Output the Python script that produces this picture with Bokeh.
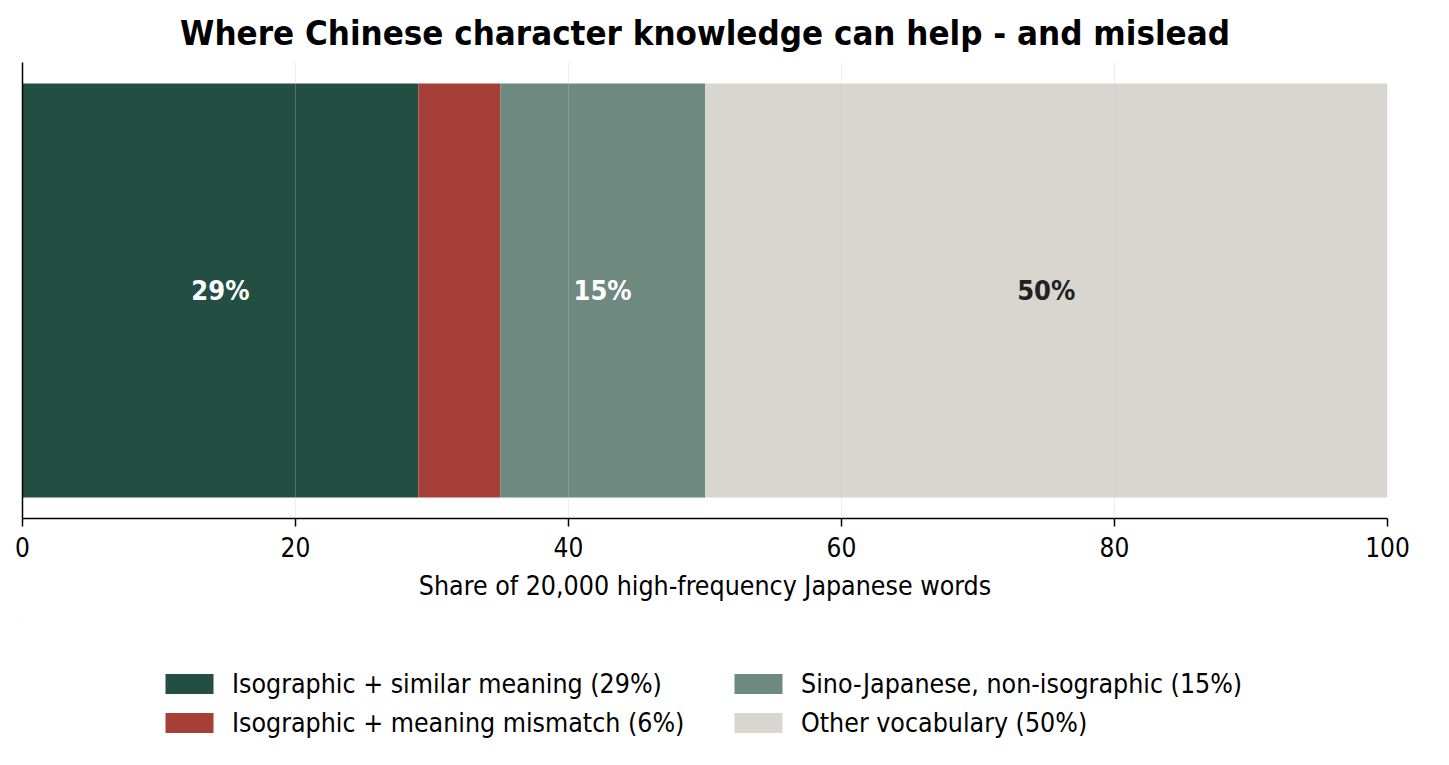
from bokeh.plotting import figure
from bokeh.models import Range1d, Legend, LegendItem, ColumnDataSource, FixedTicker
from bokeh.layouts import column
from bokeh.core.properties import value
from bokeh.embed import file_html
from bokeh.resources import INLINE

categories = ["Isographic + similar meaning (29%)",
              "Isographic + meaning mismatch (6%)",
              "Sino-Japanese, non-isographic (15%)",
              "Other vocabulary (50%)"]
shares = [29, 6, 15, 50]
colors = ["#234F42", "#A63F37", "#6E8980", "#D8D6CE"]
bar_labels = ["29%", "", "15%", "50%"]
label_colors = ["#FFFFFF", "#FFFFFF", "#FFFFFF", "#222222"]
x_ticks = [0, 20, 40, 60, 80, 100]

FONT = "DejaVu Sans Condensed"

lefts = []
rights = []
acc = 0
for s in shares:
    lefts.append(acc)
    acc += s
    rights.append(acc)
mids = [(l + r) / 2 for l, r in zip(lefts, rights)]

p = figure(frame_width=1365, frame_height=456, output_backend="svg", toolbar_location=None,
           x_range=Range1d(0, 100), y_range=Range1d(-0.4406, 0.4406),
           min_border_left=22, min_border_right=54, min_border_top=6, min_border_bottom=100)
p.outline_line_color = None
p.background_fill_color = "white"

p.title.text = "Where Chinese character knowledge can help - and mislead"
p.title.align = "center"
p.title.text_font = FONT
p.title.text_font_size = "34.6px"
p.title.text_font_style = "bold"
p.title.text_color = "#000000"
p.title.standoff = 20

for i in range(len(shares)):
    p.hbar(y=[0], left=[lefts[i]], right=[rights[i]], height=0.8,
           fill_color=colors[i], line_color=None)

src = ColumnDataSource(dict(x=mids, y=[0] * len(mids), t=bar_labels, c=label_colors))
p.text(x="x", y="y", text="t", text_color="c", source=src,
       text_align="center", text_baseline="middle",
       text_font=value(FONT), text_font_style="bold", text_font_size="27px")

p.xgrid.ticker = FixedTicker(ticks=x_ticks)
p.xgrid.grid_line_color = "#c8c8c8"
p.xgrid.grid_line_alpha = 0.3
p.xgrid.level = "guide"
p.ygrid.grid_line_color = None

p.xaxis.ticker = FixedTicker(ticks=x_ticks)
p.xaxis.axis_line_color = "black"
p.xaxis.axis_line_width = 1.5
p.xaxis.major_tick_line_color = "black"
p.xaxis.major_tick_line_width = 1.5
p.xaxis.major_tick_out = 8
p.xaxis.major_tick_in = 0
p.xaxis.minor_tick_line_color = None
p.xaxis.major_label_text_font = FONT
p.xaxis.major_label_text_font_size = "26px"
p.xaxis.major_label_text_color = "black"
p.xaxis.major_label_standoff = 10
p.xaxis.axis_label = "Share of 20,000 high-frequency Japanese words"
p.xaxis.axis_label_text_font = FONT
p.xaxis.axis_label_text_font_size = "26.5px"
p.xaxis.axis_label_text_font_style = "normal"
p.xaxis.axis_label_text_color = "black"
p.xaxis.axis_label_standoff = 10

p.yaxis.ticker = FixedTicker(ticks=[])
p.yaxis.axis_line_color = "black"
p.yaxis.axis_line_width = 1.5
p.yaxis.major_tick_line_color = None
p.yaxis.minor_tick_line_color = None
p.yaxis.major_label_standoff = 0

# Legend panel: a second figure below, holding the legend
lg = figure(width=1441, height=130, output_backend="svg", toolbar_location=None,
            x_range=Range1d(1000, 1001), y_range=Range1d(0, 1),
            min_border_left=22, min_border_right=54, min_border_top=0, min_border_bottom=0)
lg.outline_line_color = None
lg.xaxis.visible = False
lg.yaxis.visible = False
lg.xgrid.visible = False
lg.ygrid.visible = False
lg.background_fill_color = "white"
lg.border_fill_color = "white"

legend_renderers = []
for i in range(len(shares)):
    r = lg.hbar(y=[50], left=[lefts[i]], right=[rights[i]], height=0.8,
                fill_color=colors[i], line_color=None)
    legend_renderers.append(r)

items = [LegendItem(label=categories[i], renderers=[legend_renderers[i]]) for i in range(len(categories))]
legend = Legend(items=items, orientation="vertical", ncols=2, location=(137, 10),
                glyph_width=60, glyph_height=25, label_text_font=FONT,
                label_text_font_size="26.5px", label_text_color="black",
                label_standoff=13, spacing=8, label_width=488,
                label_height=26, padding=10, margin=0, border_line_color=None,
                background_fill_alpha=0)
lg.add_layout(legend, "center")

layout = column(p, lg)
open("out.html", "w").write(file_html(layout, INLINE))
